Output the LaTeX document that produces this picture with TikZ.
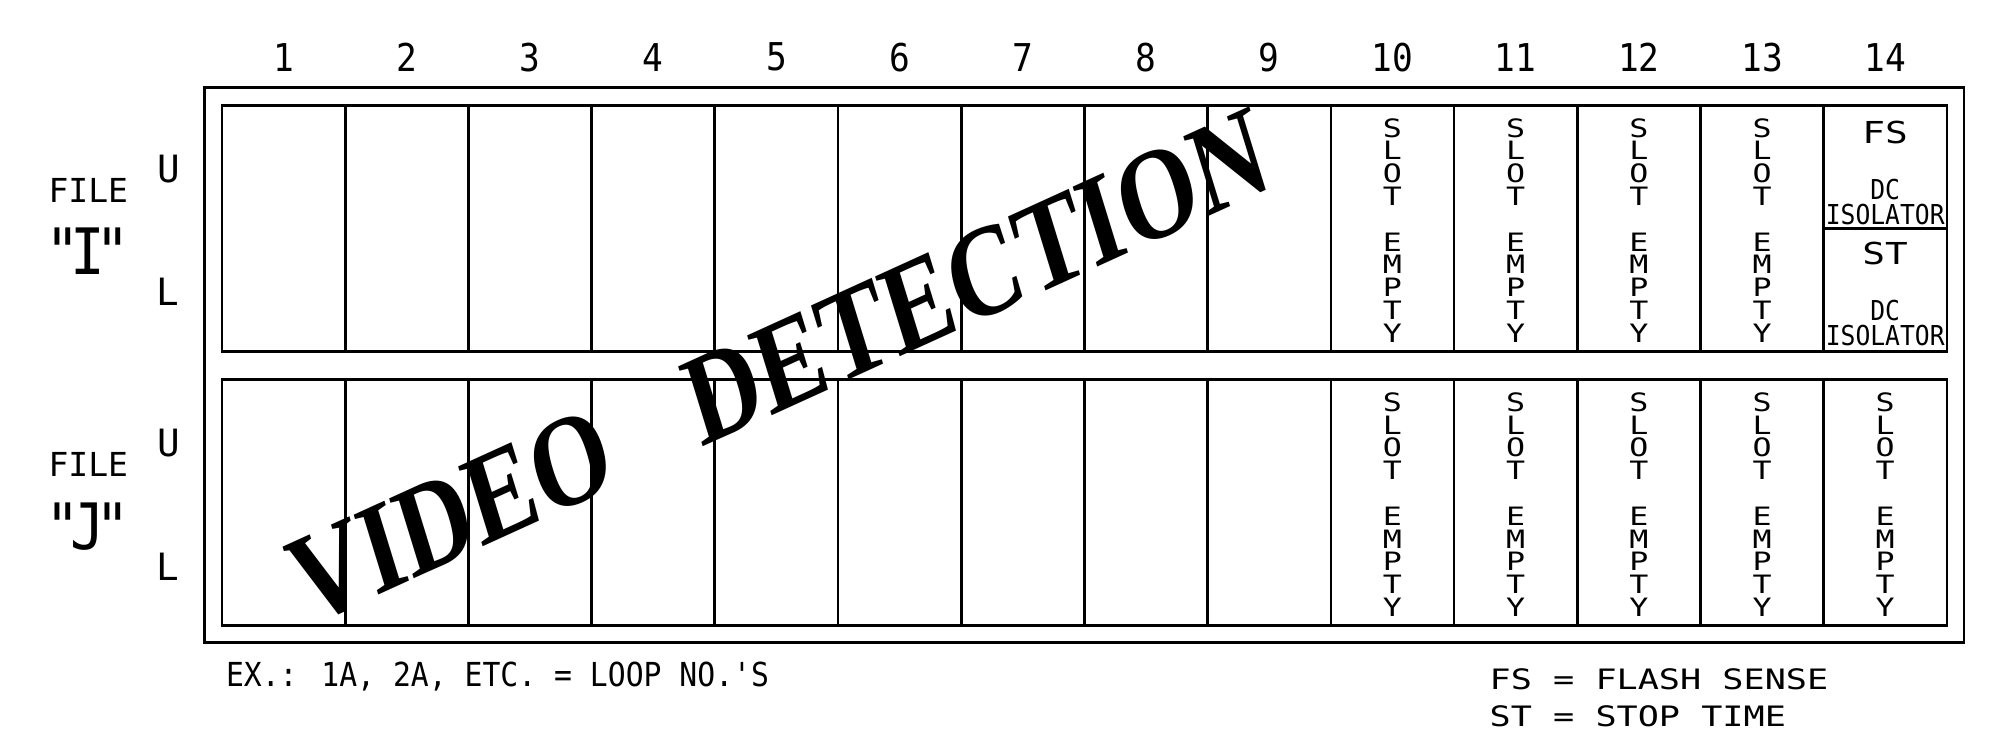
\documentclass[tikz,border=0pt]{standalone}
\usepackage{fontspec}
\newfontfamily\cad{DejaVu Sans Mono}
\newfontfamily\cadnarrow[FakeStretch=0.9]{DejaVu Sans Mono}
\newfontfamily\cadwide[FakeStretch=1.25]{DejaVu Sans Mono}
\newfontfamily\wmfont{Liberation Serif}
\begin{document}
\begin{tikzpicture}[x=0.1mm,y=-0.1mm,
frame/.style={draw,line width=.75pt},
cell/.style={draw,line width=.75pt,minimum width=12.32mm,minimum height=24.6mm,inner sep=0pt},
half/.style={cell,minimum height=12.3mm},
num/.style={font=\cadnarrow\fontsize{10.9}{11}\selectfont,inner sep=0pt},
side/.style={font=\cad\fontsize{10.7}{11}\selectfont,inner sep=0pt},
file/.style={font=\cad\fontsize{9.4}{10}\selectfont,inner sep=0pt},
big/.style={font=\cadnarrow\fontsize{18.2}{19}\selectfont,inner sep=0pt,anchor=base},
slot/.style={font=\cadwide\fontsize{7.2}{6.49}\selectfont,align=center,inner sep=0pt,yshift=-.2mm},
tag/.style={font=\cadwide\fontsize{8.6}{9}\selectfont,inner sep=0pt},
iso/.style={font=\cadnarrow\fontsize{7.8}{7.2}\selectfont,align=center,inner sep=0pt},
note/.style={font=\cadnarrow\fontsize{9.4}{10}\selectfont,inner sep=0pt,anchor=base west},
legend/.style={font=\cadwide\fontsize{8}{10.6}\selectfont,align=left,inner sep=0pt,anchor=north west},
wm/.style={font=\wmfont\bfseries\fontsize{36}{36}\selectfont,inner sep=0pt,transform shape}]
\useasboundingbox (0,0) rectangle (1991,748);
\draw[frame] (204.4,87.5) rectangle (1964,642.6);
\foreach \c in {1,...,13}
  \node[cell] (i\c) at ({222+(\c-.5)*123.2},228.3) {};
\node[half] (fs) at (1885.2,166.8) {};
\node[half] (st) at (1885.2,289.8) {};
\foreach \c in {1,...,14} {
  \node[cell] (j\c) at ({222+(\c-.5)*123.2},502.5) {};
  \node[num] (n\c) at ({222+(\c-.5)*123.2},57.2) {\c};
}
\foreach \c in {10,...,13}
  \node[slot] (ie\c) at (i\c) {S\\L\\O\\T\\[6.49pt]E\\M\\P\\T\\Y};
\foreach \c in {10,...,14}
  \node[slot] (je\c) at (j\c) {S\\L\\O\\T\\[6.49pt]E\\M\\P\\T\\Y};
\node[tag] (fsname) at (1885.2,132.5) {FS};
\node[iso] (fsiso) at (1885.2,201.7) {DC\\ISOLATOR};
\node[tag] (stname) at (1885.2,253.3) {ST};
\node[iso] (stiso) at (1885.2,323.3) {DC\\ISOLATOR};
\node[file] (fileI) at (88.3,190) {FILE};
\node[big] (nameI) at (87.5,275) {"\kern-.15em I\kern-.15em"};
\node[side] (uI) at (169,169.3) {U};
\node[side] (lI) at (168,292) {L};
\node[file] (fileJ) at (88.3,464.2) {FILE};
\node[big] (nameJ) at (87.5,550) {"\kern-.15em J\kern-.15em"};
\node[side] (uJ) at (169,443.3) {U};
\node[side] (lJ) at (168,566.3) {L};
\node[note] (loops) at (225.3,686.7) {EX.: 1A, 2A, ETC. = LOOP NO.'S};
\node[legend] (abbr) at (1489,668) {FS = FLASH SENSE\\ST = STOP TIME};
\node[wm,rotate=24.5,xslant=.13,xscale=.83,anchor=base west] (wmark) at (306,627.9) {VIDEO\hspace{.86em}DETECTION};
\end{tikzpicture}
\end{document}
